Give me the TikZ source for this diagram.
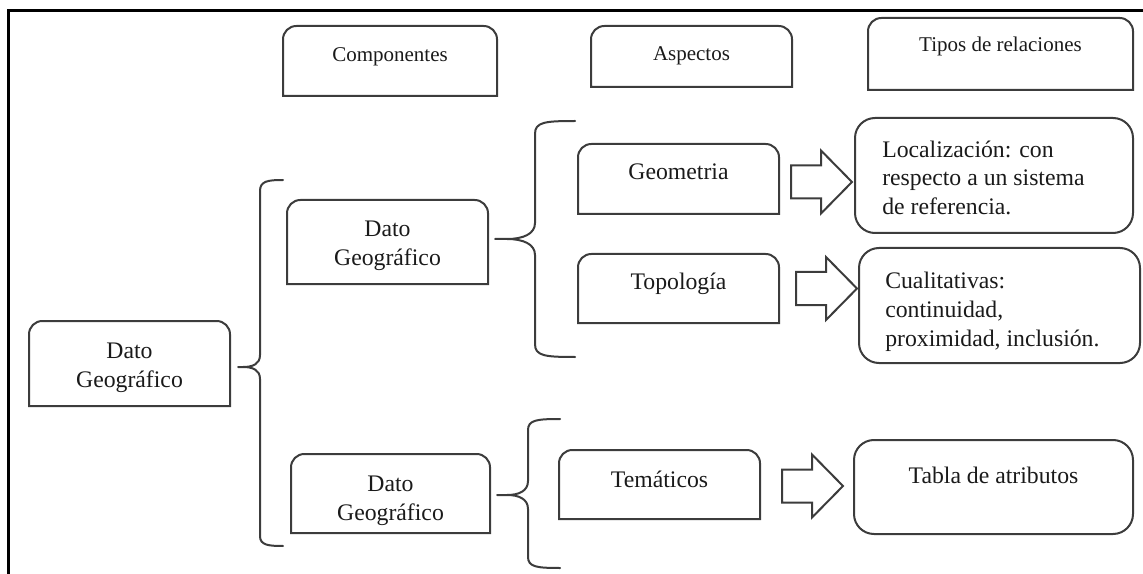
\documentclass[tikz,border=0pt]{standalone}
\usepackage{fontspec}
\setmainfont{Liberation Serif}
\usetikzlibrary{calc}
\definecolor{edgegray}{HTML}{3C3C3C}
\definecolor{ink}{HTML}{1A1A1A}
% box whose top corners are rounded and bottom corners square
\newcommand\roundtopbox[1]{%
  \draw[outline] (#1.south west) -- ([yshift=-10pt]#1.north west)
    arc[start angle=180,end angle=90,radius=10pt]
    -- ([xshift=-10pt]#1.north east)
    arc[start angle=90,end angle=0,radius=10pt]
    -- (#1.south east) -- cycle;}
\begin{document}
\begin{tikzpicture}[x=0.75pt,y=-0.75pt,
  outline/.style={draw=edgegray, line width=1.5pt},
  box/.style={inner sep=0pt, outer sep=0pt},
  fullbox/.style={box, outline, rounded corners=15pt},
  hdr/.style={text=ink, font=\fontsize{15.75pt}{18pt}\selectfont, inner sep=0pt},
  lbl/.style={text=ink, font=\fontsize{17.8pt}{21.75pt}\selectfont, inner sep=0pt, align=center},
  lbll/.style={lbl, align=left},
  brace/.style={draw=edgegray, line width=1.5pt, line join=round, line cap=round},
  blockarrow/.style={draw=edgegray, line width=1.5pt, fill=white, line join=miter}]

\useasboundingbox (0,0) rectangle (1143,574);
% outer frame (top and left edges)
\draw[line width=2.25pt] (8,574) -- (8,11) -- (1143,11);

% column headers
\node[box, minimum width=160.5pt, minimum height=52.5pt] (comp) at (390,61) {};
\node[box, minimum width=150.75pt, minimum height=45.75pt] (asp) at (691.5,56.5) {};
\node[box, minimum width=198.75pt, minimum height=54pt] (tipos) at (1000.5,54) {};
\roundtopbox{comp}\roundtopbox{asp}\roundtopbox{tipos}
\node[hdr, anchor=base] (compt) at (390,62) {Componentes};
\node[hdr, anchor=base] (aspt) at (691.5,61) {Aspectos};
\node[hdr, anchor=base] (tipt) at (1000.5,52) {Tipos de relaciones};

% data boxes
\node[box, minimum width=150.75pt, minimum height=63.75pt] (dg0) at (129.5,363.5) {};
\node[box, minimum width=150.75pt, minimum height=63pt] (dg1) at (387.5,242) {};
\node[box, minimum width=149.25pt, minimum height=59.25pt] (dg2) at (390.5,493.5) {};
\node[box, minimum width=150.75pt, minimum height=52.5pt] (geo) at (678.5,179) {};
\node[box, minimum width=150.75pt, minimum height=51.75pt] (topo) at (678.5,288.5) {};
\node[box, minimum width=150.75pt, minimum height=51.75pt] (tem) at (659.5,484.5) {};
\roundtopbox{dg0}\roundtopbox{dg1}\roundtopbox{dg2}
\roundtopbox{geo}\roundtopbox{topo}\roundtopbox{tem}

% multi-line labels are placed by the baseline of their last line
\node[lbl, anchor=base] (dg0t) at (129.5,387) {Dato\\Geográfico};
\node[lbl, anchor=base] (dg1t) at (387.5,266) {Dato\\Geográfico};
\node[lbl, anchor=base] (dg2t) at (390.5,520) {Dato\\Geográfico};
\node[lbl, anchor=base] (geot) at (678.5,180) {Geometria};
\node[lbl, anchor=base] (topot) at (678.5,290) {Topología};
\node[lbl, anchor=base] (temt) at (659.5,487) {Temáticos};

% relation boxes
\node[fullbox, minimum width=208.5pt, minimum height=86.25pt] (loc) at (994,175.5) {};
\node[fullbox, minimum width=210.75pt, minimum height=86.25pt] (cual) at (999.5,305.5) {};
\node[fullbox, minimum width=209.25pt, minimum height=70.5pt] (tabla) at (993.5,487) {};
\node[lbll, anchor=base west] (loct) at (882,215) {Localización: con\\respecto a un sistema\\de referencia.};
\node[lbll, anchor=base west] (cualt) at (885,346) {Cualitativas:\\continuidad,\\proximidad, inclusión.};
\node[lbl, anchor=base] (tablat) at (993.5,483) {Tabla de atributos};

% braces
\coordinate (b1) at ($(dg0.east)+(8,3.5)$);
\draw[brace, shift={(b1)}] (45,-187) .. controls (30,-187) and (22,-186) .. (22,-176)
  -- (22,-12) .. controls (22,-3) and (15,0) .. (5,0) -- (0,0)
  (5,0) .. controls (15,0) and (22,3) .. (22,12)
  -- (22,169) .. controls (22,178) and (30,179) .. (45,179);
\coordinate (b2) at ($(dg1.east)+(7,-3)$);
\draw[brace, shift={(b2)}] (80,-118) .. controls (50,-118) and (40,-117) .. (40,-105)
  -- (40,-16) .. controls (40,-5) and (28,0) .. (12,0) -- (0,0)
  (12,0) .. controls (28,0) and (40,5) .. (40,16)
  -- (40,105) .. controls (40,117) and (50,118) .. (80,118);
\coordinate (b3) at ($(dg2.east)+(7,1.5)$);
\draw[brace, shift={(b3)}] (63,-76) .. controls (40,-76) and (31,-75) .. (31,-65)
  -- (31,-14) .. controls (31,-4) and (22,0) .. (10,0) -- (0,0)
  (10,0) .. controls (22,0) and (31,4) .. (31,14)
  -- (31,62) .. controls (31,72) and (40,73) .. (63,73);

% block arrows
\coordinate (t1) at ($(loc.west |- geo.east)+(-3,3)$);
\coordinate (t2) at ($(cual.west |- topo.east)+(-2,0)$);
\coordinate (t3) at ($(tabla.west |- tem.east)+(-11,1.5)$);
\foreach \t in {t1,t2,t3}
  \draw[blockarrow, shift={(\t)}] (0,0) -- (-31,-31.5) -- (-31,-16.5) -- (-61,-16.5)
    -- (-61,16.5) -- (-31,16.5) -- (-31,31.5) -- cycle;
\end{tikzpicture}
\end{document}
